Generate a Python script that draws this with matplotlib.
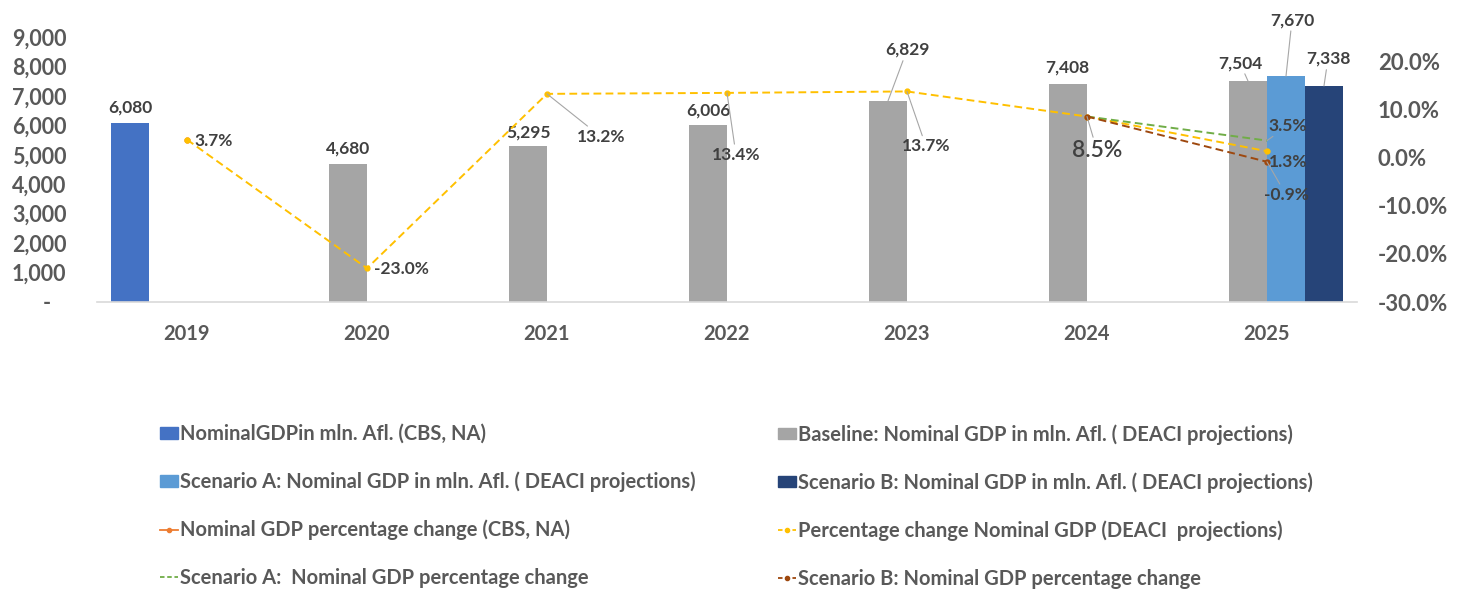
import matplotlib
matplotlib.use('Agg')
import matplotlib.pyplot as plt
import numpy as np
from matplotlib.patches import Patch
from matplotlib.lines import Line2D

plt.rcParams['font.family'] = ['Lato', 'DejaVu Sans']

nan = np.nan
years = ['2019', '2020', '2021', '2022', '2023', '2024', '2025']

# GDP levels, mln. Afl.
gdp_cbs = [6080, nan, nan, nan, nan, nan, nan]
gdp_base = [nan, 4680, 5295, 6006, 6829, 7408, 7504]
gdp_scen_a = [nan, nan, nan, nan, nan, nan, 7670]
gdp_scen_b = [nan, nan, nan, nan, nan, nan, 7338]

# percentage changes
pct_cbs = [3.7, nan, nan, nan, nan, nan, nan]
pct_deaci = [3.7, -23.0, 13.2, 13.4, 13.7, 8.5, 1.3]
pct_scen_a = [nan, nan, nan, nan, nan, 8.5, 3.5]
pct_scen_b = [nan, nan, nan, nan, nan, 8.5, -0.9]

c_cbs = '#4472C4'
c_base = '#A5A5A5'
c_a = '#5B9BD5'
c_b = '#264478'
c_orange = '#ED7D31'
c_yellow = '#FFC000'
c_green = '#70AD47'
c_brown = '#9E480E'
tick_col = '#595959'
lab_col = '#404040'
lead_col = '#A6A6A6'

fig = plt.figure(figsize=(14.58, 5.92), dpi=100)
ax = fig.add_axes([97 / 1458, 1 - 302 / 592, 1260 / 1458, 265 / 592])
ax2 = ax.twinx()

x = np.arange(len(years))
w = 0.211
offs = [-1.5 * w, -0.5 * w, 0.5 * w, 1.5 * w]

ax.bar(x + offs[0], gdp_cbs, w, color=c_cbs)
ax.bar(x + offs[1], gdp_base, w, color=c_base)
ax.bar(x + offs[2], gdp_scen_a, w, color=c_a)
ax.bar(x + offs[3], gdp_scen_b, w, color=c_b)

ax.set_xlim(-0.5, len(years) - 0.5)
ax.set_ylim(0, 9000)
ax.set_yticks(np.arange(0, 9001, 1000))
ax.set_yticklabels(['-   '] + [f'{v:,}' for v in range(1000, 9001, 1000)])
ax.set_xticks(x)
ax.set_xticklabels(years)

ax2.set_ylim(-30, 25)
ax2.set_yticks(np.arange(-30, 21, 10))
ax2.set_yticklabels([f'{v:.1f}%' for v in np.arange(-30, 21, 10)])

for s in ['top', 'left', 'right']:
    ax.spines[s].set_visible(False)
ax.spines['bottom'].set_color('#D9D9D9')
ax.spines['bottom'].set_linewidth(1.2)
for s in ax2.spines.values():
    s.set_visible(False)

ax.tick_params(axis='y', length=0, pad=22, labelsize=15.5, labelcolor=tick_col)
ax.tick_params(axis='x', length=0, pad=16, labelsize=14.5, labelcolor=tick_col)
ax2.tick_params(axis='y', length=0, pad=15, labelsize=16, labelcolor=tick_col)
for t in ax.get_yticklabels() + ax.get_xticklabels() + ax2.get_yticklabels():
    t.set_fontweight('bold')

dash = (4, 2.2)
ax2.plot(x, pct_cbs, color=c_orange, lw=1.3, marker='o', ms=3.5)
ax2.plot(x, pct_deaci, color=c_yellow, lw=1.4, dashes=dash, marker='o', ms=3.5)
ax2.plot(x, pct_scen_a, color=c_green, lw=1.4, dashes=dash)
ax2.plot(x, pct_scen_b, color=c_brown, lw=1.4, dashes=dash, marker='o', ms=3.5)


def label(axis, xv, yv, text, dx, dy, leader=False, size=12.5, weight='bold', ha='center'):
    kw = {}
    if leader:
        kw['arrowprops'] = dict(arrowstyle='-', color=lead_col, lw=0.8,
                                shrinkA=0, shrinkB=0)
    axis.annotate(text, (xv, yv), xytext=(dx, dy), textcoords='offset pixels',
                  ha=ha, va='center', fontsize=size, fontweight=weight,
                  color=lab_col, **kw)


# bar labels: (series, offset index, pixel offsets)
bar_labels = [
    (gdp_cbs, 0, [(0, 15)]),
    (gdp_base, 1, [None, (0, 16), (0, 14), (0, 15), (19, 51), (-1, 16), (-8, 18)]),
    (gdp_scen_a, 2, [(6, 56)]),
    (gdp_scen_b, 3, [(4, 27)]),
]
for vals, k, offsets in bar_labels:
    idx = [i for i, v in enumerate(vals) if not np.isnan(v)]
    if len(offsets) == len(vals):
        offsets = [offsets[i] for i in idx]
    for i, (dx, dy) in zip(idx, offsets):
        label(ax, x[i] + offs[k], vals[i], f'{vals[i]:,.0f}', dx, dy,
              leader=(dy > 20 or abs(dx) > 5))

# percentage labels
pct_offsets = [(7, -1, False), (7, -1, False), (54, -43, True), (9, -62, True),
               (19, -55, True), (10, -34, True), (21, -11, False)]
for i, (dx, dy, ld) in enumerate(pct_offsets):
    ha = 'left' if i < 2 else 'center'
    size = 16.5 if i == 5 else 12.5
    weight = 'semibold' if i == 5 else 'bold'
    label(ax2, x[i], pct_deaci[i], f'{pct_deaci[i]:.1f}%', dx, dy, ld, size, weight, ha)
label(ax2, x[6], pct_scen_a[6], f'{pct_scen_a[6]:.1f}%', 21, 15, True)
label(ax2, x[6], pct_scen_b[6], f'{pct_scen_b[6]:.1f}%', 19, -33, True)

# legend, two columns
col1 = [
    (Patch(color=c_cbs), 'NominalGDPin mln. Afl. (CBS, NA)'),
    (Patch(color=c_a), 'Scenario A: Nominal GDP in mln. Afl. ( DEACI projections)'),
    (Line2D([], [], color=c_orange, lw=1.3, marker='o', ms=3),
     'Nominal GDP percentage change (CBS, NA)'),
    (Line2D([], [], color=c_green, lw=1.3, dashes=(2.5, 1.5)),
     'Scenario A:  Nominal GDP percentage change'),
]
col2 = [
    (Patch(color=c_base), 'Baseline: Nominal GDP in mln. Afl. ( DEACI projections)'),
    (Patch(color=c_b), 'Scenario B: Nominal GDP in mln. Afl. ( DEACI projections)'),
    (Line2D([], [], color=c_yellow, lw=1.3, dashes=(2.5, 1.5), marker='o', ms=3),
     'Percentage change Nominal GDP (DEACI  projections)'),
    (Line2D([], [], color=c_brown, lw=1.3, dashes=(2.5, 1.5), marker='o', ms=3),
     'Scenario B: Nominal GDP percentage change'),
]
for col, xa in [(col1, 160), (col2, 778)]:
    leg = fig.legend([h for h, _ in col], [t for _, t in col], loc='upper left',
                     bbox_to_anchor=(xa / 1458, 1 - 424 / 592), frameon=False,
                     fontsize=14.5, handlelength=0.9, handleheight=0.5,
                     handletextpad=0.1, labelspacing=1.37, borderpad=0,
                     borderaxespad=0)
    for t in leg.get_texts():
        t.set_color(tick_col)
        t.set_fontweight('bold')

fig.savefig('out.png', dpi=100)
